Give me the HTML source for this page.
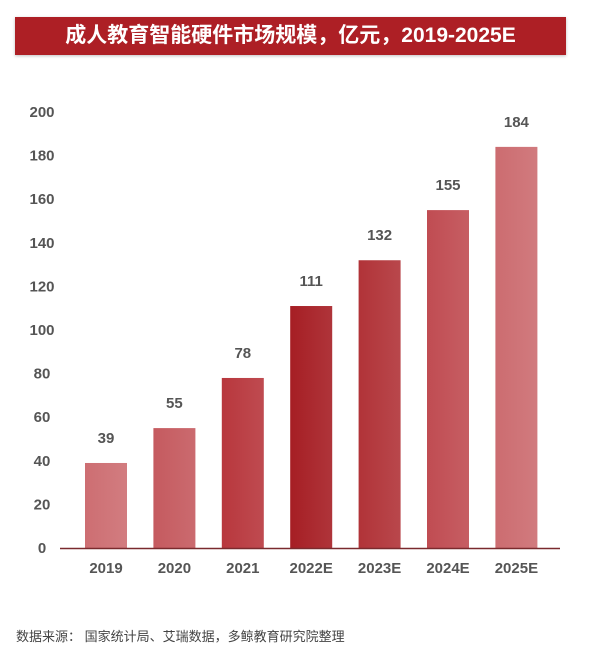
<!DOCTYPE html>
<html><head><meta charset="utf-8">
<style>
body{margin:0;background:#fff;width:600px;height:658px;overflow:hidden;font-family:"Liberation Sans","Noto Sans CJK SC",sans-serif;}
#banner{position:absolute;left:15px;top:17px;width:551px;height:38px;background:#ad1f25;color:#fff;font-weight:bold;font-size:21px;line-height:38px;text-align:center;box-shadow:0 1px 3px rgba(0,0,0,0.25);}
#src{position:absolute;left:16px;top:626px;font-size:13px;color:#444;}
svg{position:absolute;left:0;top:0}
</style></head><body>
<div id="banner">成人教育智能硬件市场规模，亿元，2019-2025E</div>
<svg id="chart" width="600" height="658"></svg>
<div id="src">数据来源： 国家统计局、艾瑞数据，多鲸教育研究院整理</div>
<script>
const categories=["2019","2020","2021","2022E","2023E","2024E","2025E"];
const values=[39,55,78,111,132,155,184];
const yTicks=[0,20,40,60,80,100,120,140,160,180,200];
const colors=["#cd6e72","#c55a5f","#b8373d","#a61e24","#b13338","#c04c52","#cc6c70"];
const NS="http://www.w3.org/2000/svg";
const svg=document.getElementById('chart');
const y=v=>548-v*2.18;
const x=i=>85+i*68.4;
const bw=42;
function mk(t,a){const e=document.createElementNS(NS,t);for(const k in a)e.setAttribute(k,a[k]);svg.appendChild(e);return e;}
const defs=mk('defs',{});
colors.forEach((c,i)=>{
  const g=document.createElementNS(NS,'linearGradient');
  g.setAttribute('id','g'+i);g.setAttribute('x1','0');g.setAttribute('x2','1');
  const s1=document.createElementNS(NS,'stop');s1.setAttribute('offset','0');s1.setAttribute('stop-color',c);
  const s2=document.createElementNS(NS,'stop');s2.setAttribute('offset','1');s2.setAttribute('stop-color',c);s2.setAttribute('stop-opacity','0.9');
  g.appendChild(s1);g.appendChild(s2);defs.appendChild(g);
});
yTicks.forEach(t=>{
  const e=mk('text',{x:42,y:y(t)+5,'text-anchor':'middle','font-size':15,'font-weight':'bold',fill:'#555','font-family':'Liberation Sans, sans-serif'});
  e.textContent=t;
  
  
});
values.forEach((v,i)=>{
  const r=mk('rect',{x:x(i),y:y(v),width:bw,height:548-y(v),fill:'url(#g'+i+')'});
  
  
  const l=mk('text',{x:x(i)+bw/2,y:y(v)-20,'text-anchor':'middle','font-size':15,'font-weight':'bold',fill:'#555','font-family':'Liberation Sans, sans-serif'});
  l.textContent=v;
  
  
  const c=mk('text',{x:x(i)+bw/2,y:573,'text-anchor':'middle','font-size':15,'font-weight':'bold',fill:'#555','font-family':'Liberation Sans, sans-serif'});
  c.textContent=categories[i];
  
  
});
const ax=mk('line',{x1:60,x2:560,y1:548.5,y2:548.5,stroke:'#7a2a2e','stroke-width':1.5});


</script>
</body></html>
